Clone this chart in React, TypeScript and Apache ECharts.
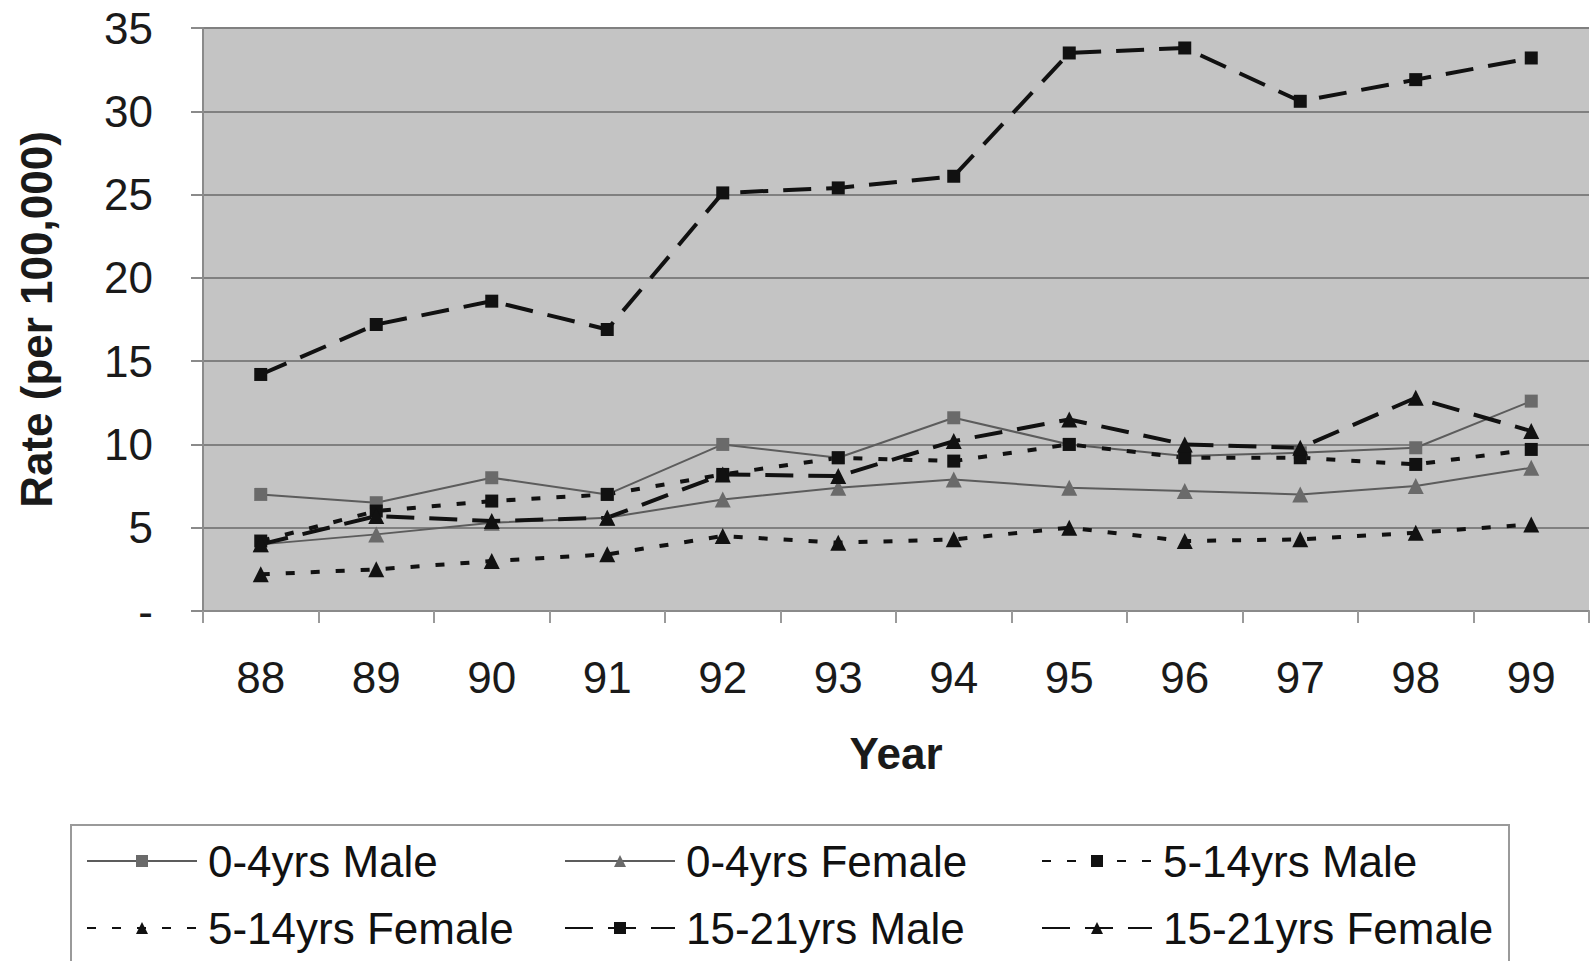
import React, { useEffect, useRef } from "react";
import * as echarts from "echarts";

const years = ["88", "89", "90", "91", "92", "93", "94", "95", "96", "97", "98", "99"];
const male04 = [7.0, 6.5, 8.0, 7.0, 10.0, 9.2, 11.6, 10.0, 9.3, 9.5, 9.8, 12.6];
const female04 = [4.0, 4.6, 5.3, 5.6, 6.7, 7.4, 7.9, 7.4, 7.2, 7.0, 7.5, 8.6];
const male514 = [4.2, 6.0, 6.6, 7.0, 8.2, 9.2, 9.0, 10.0, 9.2, 9.2, 8.8, 9.7];
const female514 = [2.2, 2.5, 3.0, 3.4, 4.5, 4.1, 4.3, 5.0, 4.2, 4.3, 4.7, 5.2];
const male1521 = [14.2, 17.2, 18.6, 16.9, 25.1, 25.4, 26.1, 33.5, 33.8, 30.6, 31.9, 33.2];
const female1521 = [4.0, 5.7, 5.4, 5.6, 8.2, 8.1, 10.2, 11.5, 10.0, 9.8, 12.8, 10.8];

const seriesNames = [
  "0-4yrs Male",
  "0-4yrs Female",
  "5-14yrs Male",
  "5-14yrs Female",
  "15-21yrs Male",
  "15-21yrs Female",
];

const FONT = "'Liberation Sans', Arial, sans-serif";

export default function App() {
  const ref = useRef<HTMLDivElement>(null);

  useEffect(() => {
    document.body.style.margin = "0";
    if (!ref.current) return;
    const chart = echarts.init(ref.current, undefined, { renderer: "svg" });

    const grey = "#5c5c5c";
    const greyMark = "#6a6a6a";
    const black = "#111111";

    const mk = (
      name: string,
      data: number[],
      color: string,
      markColor: string,
      width: number,
      type: any,
      symbol: string,
      size: number
    ) => ({
      name,
      type: "line",
      data,
      symbol,
      symbolSize: size,
      showSymbol: true,
      itemStyle: { color: markColor, borderWidth: 0 },
      lineStyle: { color, width, type },
      z: 3,
    });

    const legendPos = [
      { left: 86, top: 839 },
      { left: 564, top: 839 },
      { left: 1041, top: 839 },
      { left: 86, top: 906 },
      { left: 564, top: 906 },
      { left: 1041, top: 906 },
    ];

    const option: any = {
      animation: false,
      backgroundColor: "#ffffff",
      grid: { left: 203, right: 4, top: 28, bottom: 350, show: true, backgroundColor: "#c4c4c4", borderWidth: 0 },
      graphic: [
        {
          type: "rect",
          shape: { x: 71, y: 825, width: 1438, height: 160 },
          style: { fill: "#ffffff", stroke: "#9a9a9a", lineWidth: 2 },
          z: -1,
        },
      ],
      legend: seriesNames.map((n, i) => ({
        data: [n],
        left: legendPos[i].left,
        top: legendPos[i].top,
        itemWidth: 110,
        itemHeight: 15,
        itemGap: 10,
        padding: 0,
        selectedMode: false,
        textStyle: { fontSize: 44, fontFamily: FONT, color: "#111", padding: [0, 0, 0, 6] },
      })),
      xAxis: {
        type: "category",
        data: years,
        boundaryGap: true,
        axisLine: { show: true, lineStyle: { color: "#8a8a8a", width: 2 } },
        axisTick: { show: true, length: 12, lineStyle: { color: "#9a9a9a", width: 2 } },
        axisLabel: { fontSize: 44, fontFamily: FONT, color: "#1a1a1a", margin: 44 },
        name: "Year",
        nameLocation: "middle",
        nameGap: 120,
        nameTextStyle: { fontSize: 44, fontWeight: "bold", fontFamily: FONT, color: "#1a1a1a" },
      },
      yAxis: {
        type: "value",
        min: 0,
        max: 35,
        interval: 5,
        axisLine: { show: true, lineStyle: { color: "#8a8a8a", width: 2 } },
        axisTick: { show: true, length: 12, lineStyle: { color: "#8a8a8a", width: 2 } },
        splitLine: { show: true, lineStyle: { color: "#808080", width: 2 } },
        axisLabel: {
          fontSize: 44,
          fontFamily: FONT,
          color: "#1a1a1a",
          margin: 50,
          formatter: (v: number) => (v === 0 ? "-" : String(v)),
        },
        name: "Rate (per 100,000)",
        nameLocation: "middle",
        nameGap: 145,
        nameTextStyle: { fontSize: 44, fontWeight: "bold", fontFamily: FONT, color: "#1a1a1a" },
      },
      series: [
        mk(seriesNames[0], male04, grey, greyMark, 2, "solid", "rect", 13),
        mk(seriesNames[1], female04, grey, greyMark, 2, "solid", "triangle", 16),
        mk(seriesNames[2], male514, black, black, 4, [9, 16], "rect", 13),
        mk(seriesNames[3], female514, black, black, 4, [9, 16], "triangle", 16),
        mk(seriesNames[4], male1521, black, black, 4, [28, 15], "rect", 13),
        mk(seriesNames[5], female1521, black, black, 4, [28, 15], "triangle", 16),
      ],
    };

    chart.setOption(option);
    return () => chart.dispose();
  }, []);

  return <div ref={ref} style={{ width: 1593, height: 961 }} />;
}
